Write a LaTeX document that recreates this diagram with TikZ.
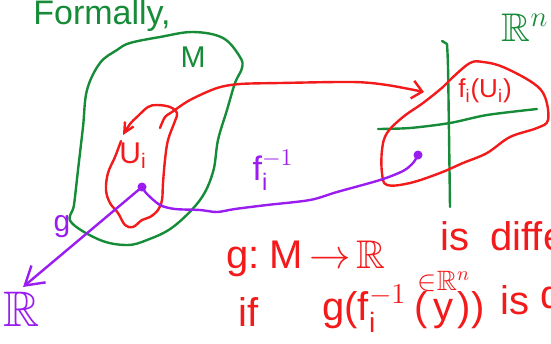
\documentclass[tikz,border=0pt]{standalone}
\usepackage{amsmath,amssymb}
\usepackage{fontspec}
\setmainfont{Liberation Sans}
\usetikzlibrary{arrows.meta}
\definecolor{inkgreen}{HTML}{178C38}
\definecolor{inkred}{HTML}{F21A1A}
\definecolor{inkpurple}{HTML}{9A1CF0}
\tikzset{
  ink/.style={line width=1.2pt, line cap=round, line join=round},
  greenink/.style={ink, draw=inkgreen},
  redink/.style={ink, draw=inkred},
  purpleink/.style={ink, draw=inkpurple},
  redbarb/.style={-{Straight Barb[length=5pt,width=9pt]}},
  purplebarb/.style={-{Straight Barb[length=9pt,width=11pt]}},
  smallbarb/.style={{Straight Barb[length=5pt,width=5pt]}-},
  greentext/.style={text=inkgreen, inner sep=0pt},
  redtext/.style={text=inkred, inner sep=0pt},
  purpletext/.style={text=inkpurple, inner sep=0pt},
  deftext/.style={redtext, anchor=base west, font=\inksize{20}},
  inkdot/.style={circle, fill=inkpurple, inner sep=0pt, minimum size=4.5pt}
}
\newcommand{\inksize}[1]{\fontsize{#1}{#1}\selectfont}

\begin{document}
\begin{tikzpicture}[x=0.5pt,y=-0.5pt]
\useasboundingbox (0,0) rectangle (551,343);
\clip (0,0) rectangle (551,343);
% manifold M
\draw[greenink] plot[smooth cycle, tension=0.6] coordinates {(130,43) (160,37) (193,32) (223,38) (240,57) (242,68) (235,83) (227,110) (218,140) (213,172) (200,200) (173,227) (147,240) (127,245) (100,240) (71,222) (74,205) (78,170) (83,127) (87,90) (100,63) (117,50)};
% axes of R^n
\draw[greenink] (442,41) -- (447,44) plot[smooth] coordinates {(447,44) (448,67) (449,133) (450,207)};
\draw[greenink] plot[smooth] coordinates {(378,129) (410,128) (450,123) (487,115) (537,109)};
% chart domain U_i
\draw[redink, smallbarb] plot[smooth, tension=0.6] coordinates {(123,135) (130,124) (138,116) (148,107) (157,105) (170,107) (177,113) (175,121) (168,140) (165,160) (163,183) (162,200) (158,210) (150,217) (142,220) (133,227) (125,225) (118,213) (110,203) (106,190) (108,173) (115,157) (121,141)};
% image f_i(U_i)
\draw[redink] plot[smooth cycle, tension=0.6] coordinates {(452,78) (470,63) (483,62) (503,67) (533,83) (545,97) (548,120) (537,128) (510,137) (487,153) (463,163) (440,173) (410,183) (387,185) (382,173) (382,150) (387,133) (403,117) (423,103) (443,87)};
\coordinate (utop) at (160,128);
\coordinate (fuend) at (424,92);
\draw[redink, redbarb] plot[smooth] coordinates {(utop) (165,117) (172,112) (190,100) (217,88) (240,84) (280,83) (353,82) (387,85) (fuend)};
% points and maps
\node[inkdot] (pdot) at (142,187) {};
\node[inkdot] (qdot) at (418,155) {};
\coordinate (gtip) at (23,287);
\draw[purpleink, purplebarb] (pdot.center) -- (gtip);
\draw[purpleink] plot[smooth] coordinates {(pdot.center) (147,194) (160,205) (175,209) (200,210) (217,212) (235,209) (267,205) (310,200) (337,192) (380,180) (403,171) (413,163) (qdot.center)};
% labels
\node[greentext, anchor=base west, font=\inksize{17}] (title) at (33,24) {Formally,};
\node[greentext, font=\inksize{15}] (mlabel) at (193,57) {M};
\node[greentext, font=\inksize{20}] (rnlabel) at (525,28) {$\mathbb{R}^n$};
\node[redtext, font=\inksize{15}] (ulabel) at (133,156) {U$_\text{i}$};
\node[redtext, font=\inksize{13}] (fulabel) at (485,91) {f$_\text{i}$(U$_\text{i}$)};
\node[purpletext, font=\inksize{17}] (finvlabel) at (273,170) {$\text{f}_\text{i}^{-1}$};
\node[purpletext, anchor=base, font=\inksize{15}] (glabel) at (62,231) {g};
\node[purpletext, font=\inksize{25}] (rlabel) at (22,309) {$\mathbb{R}$};
% definition
\node[deftext] (defa) at (226,268) {g:\hspace{5pt}M\hspace{3pt}$\to$\hspace{3pt}$\mathbb{R}$};
\node[deftext] (defb) at (440,250) {is};
\node[deftext] (defc) at (490,250) {diffe};
\node[deftext] (ifa) at (238,326) {if};
\node[deftext] (ifb) at (322,320) {g(f$_\text{i}^{-1}$\hspace{4pt}(\hspace{3pt}$\overset{\makebox[0pt]{$\scriptstyle\in\mathbb{R}^n$}}{\text{y}}$\hspace{2pt}))};
\node[deftext] (ifc) at (500,314) {is};
\node[deftext] (ifd) at (540,308) {d};
\end{tikzpicture}
\end{document}
